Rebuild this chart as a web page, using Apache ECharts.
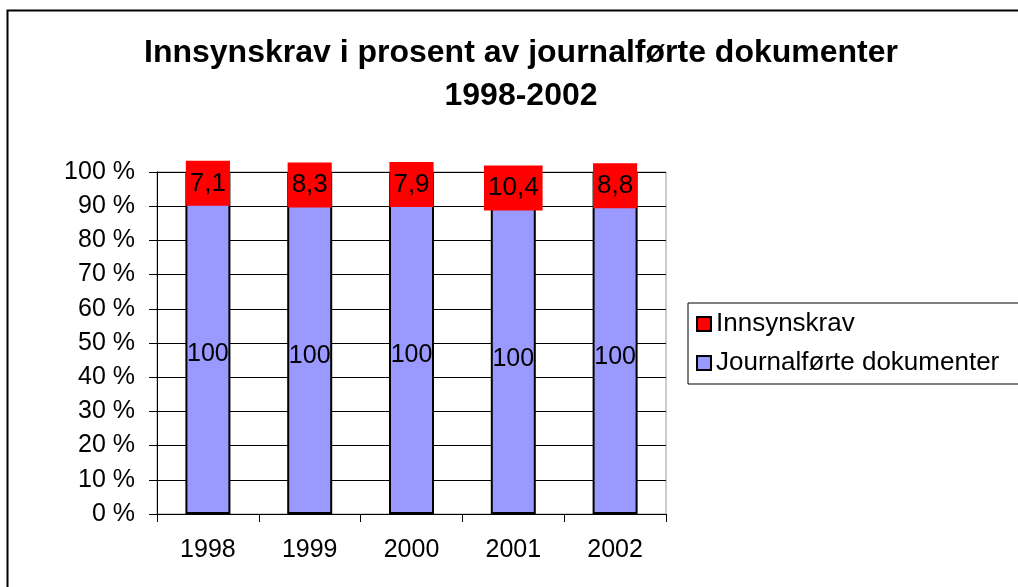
<!DOCTYPE html>
<html>
<head>
<meta charset="utf-8">
<script src="https://cdn.jsdelivr.net/npm/echarts@6/dist/echarts.min.js"></script>
<style>
  html, body { margin: 0; padding: 0; background: #fff; }
  #chart { width: 1018px; height: 587px; }
</style>
</head>
<body>
<div id="chart"></div>
<script>
// data
const years = ['1998', '1999', '2000', '2001', '2002'];
const journalfort = [100, 100, 100, 100, 100];
const innsynskrav = [7.1, 8.3, 7.9, 10.4, 8.8];
const yTicks = [0, 10, 20, 30, 40, 50, 60, 70, 80, 90, 100];

const font = 'Liberation Sans, Arial, sans-serif';

// 100 % stacked: share of each series in the year's total
let totals = years.map((y, i) => journalfort[i] + innsynskrav[i]);
let journalPct = journalfort.map((v, i) => v / totals[i] * 100);
let innsynPct = innsynskrav.map((v, i) => v / totals[i] * 100);

let chart = echarts.init(document.getElementById('chart'));

let options = {
  animation: false,
  backgroundColor: '#fff',
  title: {
    text: 'Innsynskrav i prosent av journalførte dokumenter\n1998-2002',
    left: 516,
    textAlign: 'center',
    top: 27,
    textStyle: {
      fontFamily: font,
      fontSize: 32,
      fontWeight: 'bold',
      color: '#000',
      lineHeight: 43
    }
  },
  legend: {
    orient: 'vertical',
    left: 688,
    top: 303,
    data: ['Innsynskrav', 'Journalførte dokumenter'],
    icon: 'rect',
    itemWidth: 14,
    itemHeight: 14,
    itemGap: 13,
    padding: [8, 20, 8, 8],
    borderColor: '#000',
    borderWidth: 1,
    textStyle: { fontFamily: font, fontSize: 26, color: '#000' }
  },
  graphic: [{
    type: 'rect',
    shape: { x: 7.5, y: 10.5, width: 1100, height: 700 },
    style: { fill: 'none', stroke: '#000', lineWidth: 2 },
    silent: true
  }],
  grid: {
    left: 157,
    right: 352,
    top: 172,
    bottom: 73,
    show: true,
    borderColor: '#999',
    borderWidth: 1
  },
  xAxis: {
    type: 'category',
    data: years,
    axisLine: { lineStyle: { color: '#000', width: 1 } },
    axisTick: { show: true, length: 8, lineStyle: { color: '#000' } },
    axisLabel: { fontFamily: font, fontSize: 25, color: '#000', margin: 24 }
  },
  yAxis: {
    type: 'value',
    min: yTicks[0],
    max: yTicks[yTicks.length - 1],
    interval: 10,
    axisLine: { show: true, lineStyle: { color: '#000', width: 1 } },
    axisTick: { show: true, length: 8, lineStyle: { color: '#000' } },
    splitLine: { lineStyle: { color: '#000', width: 1 } },
    axisLabel: {
      fontFamily: font, fontSize: 25, color: '#000', margin: 22,
      formatter: '{value} %'
    }
  },
  series: [
    {
      name: 'Journalførte dokumenter',
      type: 'bar',
      stack: 'total',
      barWidth: 45,
      data: journalPct,
      itemStyle: { color: '#9999ff', borderColor: '#000', borderWidth: 2 },
      label: {
        show: true,
        position: 'inside',
        fontFamily: font,
        fontSize: 25,
        color: '#000',
        formatter: (p) => String(journalfort[p.dataIndex])
      }
    },
    {
      name: 'Innsynskrav',
      type: 'bar',
      stack: 'total',
      barWidth: 45,
      data: innsynPct,
      itemStyle: { color: '#ff0000', borderColor: '#000', borderWidth: 2 },
      label: {
        show: true,
        position: 'inside',
        fontFamily: font,
        fontSize: 26,
        color: '#000',
        backgroundColor: '#ff0000',
        padding: [9, 4, 10, 4],
        lineHeight: 26,
        formatter: (p) => String(innsynskrav[p.dataIndex]).replace('.', ',')
      }
    }
  ]
};

chart.setOption(options);
</script>
</body>
</html>
